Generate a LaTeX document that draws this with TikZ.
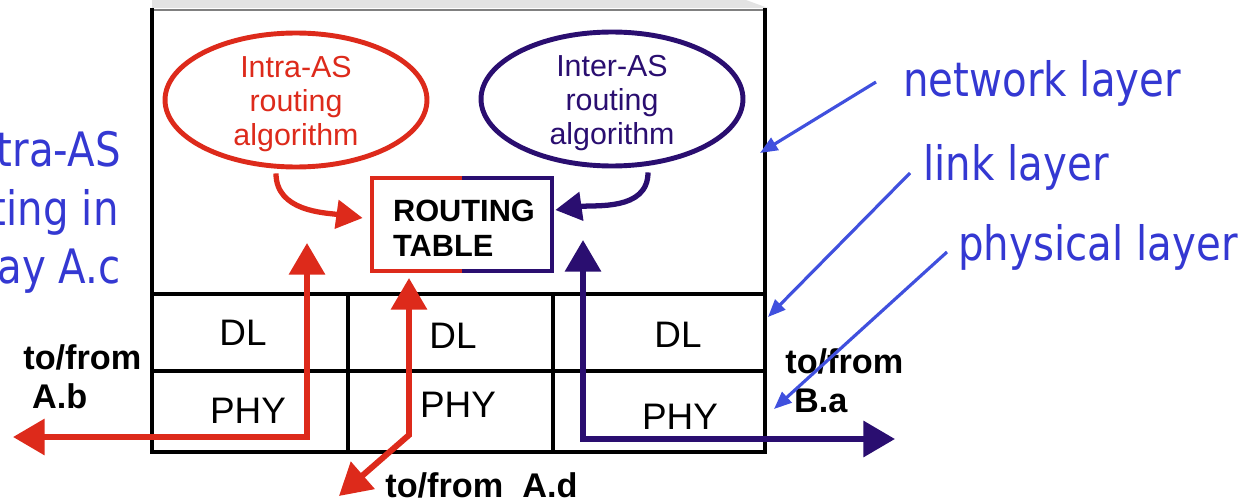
\documentclass[tikz,border=0pt]{standalone}
\usepackage{fontspec}
\setmainfont{Liberation Sans}
\newfontfamily\notefont[FakeStretch=0.85]{DejaVu Sans}
\usetikzlibrary{arrows.meta, positioning, shapes.geometric}

\definecolor{intrared}{RGB}{221,42,27}
\definecolor{internavy}{RGB}{42,14,112}
\definecolor{noteblue}{RGB}{52,56,210}
\definecolor{notearrow}{RGB}{64,80,222}

\begin{document}
\begin{tikzpicture}[
  x=0.02cm, y=-0.02cm,
  algo/.style={ellipse, draw, line width=2.8pt, minimum width=5.24cm, minimum height=2.68cm, inner sep=0pt},
  algotext/.style={align=center, inner sep=0pt, font=\fontsize{17.3}{19.4}\selectfont},
  cell/.style={font=\fontsize{21}{24}\selectfont, inner sep=0pt},
  tag/.style={font=\fontsize{19.5}{21.8}\selectfont\bfseries, inner sep=0pt, align=left},
  note/.style={font=\notefont\fontsize{27}{32}\selectfont, text=noteblue, inner sep=0pt},
  layerline/.style={line width=2.3pt},
  wire/.style={line width=3.4pt, {Triangle[length=18pt,width=20pt]}-{Triangle[length=18pt,width=20pt]}},
  feed/.style={line width=3pt, -{Triangle[length=15pt,width=16pt]}},
  pointer/.style={notearrow, line width=1.8pt, -{Triangle[length=10pt,width=8pt]}}
]
\useasboundingbox (0,0) rectangle (1248,500);

% router casing
\fill[gray!22] (152,0) -- (746,0) -- (768,8) -- (152,8) -- cycle;
\draw[gray, line width=1.2pt] (152,10) -- (765,10);
\draw[layerline] (152,8) -- (152,452) -- (765,452) -- (765,8);
\draw[layerline] (152,294) -- (765,294);
\draw[layerline] (152,371) -- (765,371);
\draw[layerline] (348,294) -- (348,452);
\draw[layerline] (553,294) -- (553,452);

% routing processes
\node[algo, intrared] (intra) at (296,100) {};
\node[algotext, text=intrared] (intratext) at ([shift={(0,4)}]intra.center) {Intra-AS\\routing\\algorithm};
\node[algo, internavy] (inter) at (612,99) {};
\node[algotext, text=internavy] (intertext) at ([shift={(0,4)}]inter.center) {Inter-AS\\routing\\algorithm};

\node[minimum width=3.6cm, minimum height=1.86cm] (table) at (462,224.5) {};
\node[align=left, inner sep=0pt, font=\fontsize{17.5}{19.8}\selectfont\bfseries]
  (tabletext) at ([shift={(2,4)}]table.center) {ROUTING\\TABLE};
\draw[intrared, line width=2.3pt] (table.north) -- (table.north west) -- (table.south west) -- (table.south);
\draw[internavy, line width=2.3pt] (table.north) -- (table.north east) -- (table.south east) -- (table.south);

% line cards
\node[cell] (dl1) at (243,333) {DL};
\node[cell] (phy1) at (248,411) {PHY};
\node[cell] (dl2) at (453,336) {DL};
\node[cell] (phy2) at (458,405) {PHY};
\node[cell] (dl3) at (678,335) {DL};
\node[cell] (phy3) at (680,417) {PHY};

% neighbours
\node[tag, anchor=base west] (fromab) at (23,408) {to/from\\\hspace*{5pt}A.b};
\node[tag, anchor=base west] (fromba) at (785,412) {to/from\\\hspace*{5pt}B.a};
\node[tag, anchor=base west] (fromad) at (385,497) {to/from\ \ A.d};

% layer notes
\node[note, anchor=base west] (netlab) at (903,97) {network layer};
\node[note, anchor=base west] (linklab) at (923,180) {link layer};
\node[note, anchor=base west] (phylab) at (958,260) {physical layer};
\node[note, anchor=base east] (gw1) at (121,167) {tra-AS};
\node[note, anchor=base east] (gw2) at (119,225) {ting in};
\node[note, anchor=base east] (gw3) at (121,283) {ay A.c};

\coordinate (nettip) at (760,153);
\coordinate (linktip) at (768,317);
\coordinate (phytip) at (774,409);
\draw[pointer] ([shift={(-27,-15)}]netlab.base west) -- (nettip);
\draw[pointer] ([shift={(-13,-7)}]linklab.base west) -- (linktip);
\draw[pointer] ([shift={(-11,-8)}]phylab.base west) -- (phytip);

% table updates
\draw[feed, intrared] ([shift={(-20,4)}]intra.south) to[out=-90, in=172] ([shift={(-9,-6.5)}]table.west);
\draw[feed, internavy] ([shift={(36,4)}]inter.south) to[out=-90, in=8] ([shift={(3,-14.5)}]table.east);

% forwarding paths
\coordinate (abend) at (13,437);
\coordinate (abtop) at (307,243);
\draw[wire, intrared] (abend) -- (abtop |- abend) -- (abtop);

\coordinate (adtop) at (409,278);
\coordinate (adbend) at (409,435);
\coordinate (adend) at (339,496);
\draw[wire, intrared] (adend) -- (adbend) -- (adtop);

\coordinate (batop) at (583,240);
\coordinate (baend) at (895,439);
\draw[wire, internavy] (batop) -- (batop |- baend) -- (baend);
\end{tikzpicture}
\end{document}
